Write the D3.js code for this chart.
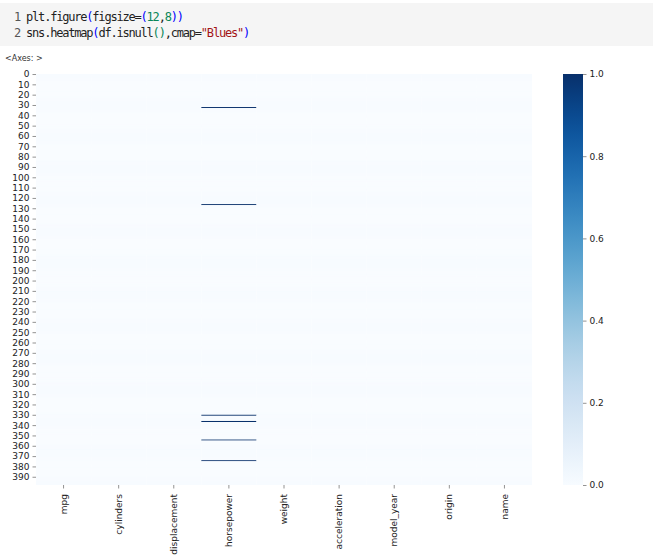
<!DOCTYPE html>
<html>
<head>
<meta charset="utf-8">
<script src="https://cdn.jsdelivr.net/npm/d3@7"></script>
<style>
  body { margin: 0; background: #fff; }
  svg { display: block; }
</style>
</head>
<body>
<svg id="chart" width="653" height="557"></svg>
<script>
// df.isnull() for the auto-mpg frame: 398 rows, only horsepower has gaps
var columns = ["mpg", "cylinders", "displacement", "horsepower", "weight",
               "acceleration", "model_year", "origin", "name"];
var rowCount = 398;
var missingHorsepower = [32, 126, 330, 336, 354, 374];
var yTickLabels = [0, 10, 20, 30, 40, 50, 60, 70, 80, 90, 100, 110, 120, 130, 140,
                   150, 160, 170, 180, 190, 200, 210, 220, 230, 240, 250, 260, 270,
                   280, 290, 300, 310, 320, 330, 340, 350, 360, 370, 380, 390];
var colorbarTicks = [0.0, 0.2, 0.4, 0.6, 0.8, 1.0];

var svg = d3.select("#chart");

// notebook code cell
svg.append("rect").attr("x", 0).attr("y", 3).attr("width", 653).attr("height", 43)
    .attr("fill", "#f5f5f5");

var codeLines = [
    [["1 ", "#555"], ["plt.figure", "#222"], ["(", "#0000ff"], ["figsize=", "#222"], ["(", "#0000ff"],
     ["12", "#098658"], [",", "#222"], ["8", "#098658"], [")", "#0000ff"], [")", "#0000ff"]],
    [["2 ", "#555"], ["sns.heatmap", "#222"], ["(", "#0000ff"], ["df.isnull", "#222"], ["()", "#098658"],
     [",cmap=", "#222"], ["\"Blues\"", "#a31515"], [")", "#0000ff"]]
];
codeLines.forEach(function(line, i) {
    var t = svg.append("text")
        .attr("x", 14).attr("y", 21 + i * 16)
        .style("font-family", "DejaVu Sans Mono")
        .style("font-size", "12px")
        .style("letter-spacing", "-1.2px");
    line.forEach(function(part) {
        t.append("tspan").attr("fill", part[1]).text(part[0]);
    });
});

svg.append("text").attr("x", 5).attr("y", 61)
    .style("font-family", "DejaVu Sans").style("font-size", "8px").attr("fill", "#333")
    .text("<Axes: >");

// heatmap
var plotLeft = 36, plotRight = 532, plotTop = 74, plotBottom = 485;

var cells = [];
d3.range(rowCount).forEach(function(r) {
    columns.forEach(function(c) {
        var v = (c == "horsepower" && missingHorsepower.indexOf(r) >= 0) ? 1 : 0;
        cells.push({ row: r, col: c, value: v });
    });
});

var x = d3.scaleBand().domain(columns).range([plotLeft, plotRight]);
var y = d3.scaleBand().domain(d3.range(rowCount)).range([plotTop, plotBottom]);
var color = d3.scaleSequential(d3.interpolateBlues).domain([0, 1]);

svg.append("g")
    .selectAll("rect")
    .data(cells)
    .enter()
    .append("rect")
    .attr("x", function(d) { return x(d.col); })
    .attr("y", function(d) { return y(d.row); })
    .attr("width", x.bandwidth())
    .attr("height", y.bandwidth())
    .attr("fill", function(d) { return color(d.value); });

function styleAxis(g) {
    g.select(".domain").remove();
    g.selectAll(".tick line").attr("stroke", "#777").attr("stroke-width", 0.8);
    g.selectAll(".tick text").attr("fill", "#222")
        .style("font-family", "DejaVu Sans").style("font-size", "9px");
}

svg.append("g")
    .attr("transform", "translate(" + plotLeft + ",0)")
    .call(d3.axisLeft(y).tickValues(yTickLabels).tickSize(3.5).tickPadding(3))
    .call(styleAxis);

var xAxis = svg.append("g")
    .attr("transform", "translate(0," + plotBottom + ")")
    .call(d3.axisBottom(x).tickSize(3.5).tickPadding(3))
    .call(styleAxis);
xAxis.selectAll(".tick text")
    .attr("transform", "rotate(-90)")
    .attr("text-anchor", "end")
    .attr("x", -9)
    .attr("y", 0)
    .attr("dy", "0.35em");

// colorbar
var cbLeft = 563, cbRight = 583;
var cb = d3.scaleLinear().domain([0, 1]).range([plotBottom, plotTop]);

var grad = svg.append("defs").append("linearGradient")
    .attr("id", "blues").attr("x1", 0).attr("y1", 1).attr("x2", 0).attr("y2", 0);
d3.range(0, 1.0001, 0.05).forEach(function(t) {
    grad.append("stop").attr("offset", t).attr("stop-color", color(t));
});

svg.append("rect")
    .attr("x", cbLeft).attr("y", cb(1))
    .attr("width", cbRight - cbLeft).attr("height", cb(0) - cb(1))
    .attr("fill", "url(#blues)");

svg.append("g")
    .attr("transform", "translate(" + cbRight + ",0)")
    .call(d3.axisRight(cb).tickValues(colorbarTicks).tickFormat(d3.format(".1f"))
        .tickSize(3.5).tickPadding(3))
    .call(styleAxis);
</script>
</body>
</html>
